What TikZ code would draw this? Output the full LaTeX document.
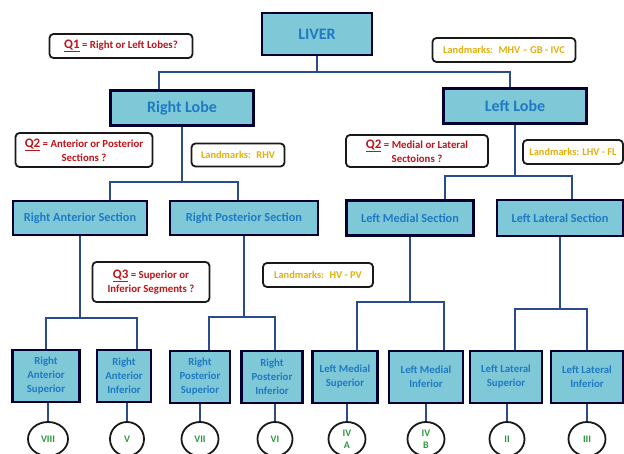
\documentclass[tikz,border=0pt]{standalone}
\usepackage{fontspec}
\setmainfont{Carlito}
\usetikzlibrary{shapes.geometric}
\definecolor{boxfill}{HTML}{7EC8D8}
\definecolor{boxtext}{HTML}{1F7AC2}
\definecolor{linkblue}{HTML}{2B4C8C}
\definecolor{qred}{HTML}{C0141C}
\definecolor{lmgold}{HTML}{E2B00C}
\definecolor{segreen}{HTML}{2E9A3C}
\newcommand{\qtag}[1]{{\fontsize{13}{13}\selectfont\underline{#1}}}

\begin{document}
\begin{tikzpicture}[x=1pt,y=-1pt,
  main box/.style={rectangle, draw=black!80!blue, line width=2.2pt, fill=boxfill, text=boxtext, align=center, inner sep=1pt, font=\bfseries\fontsize{12.3}{14}\selectfont},
  big box/.style={main box, font=\bfseries\fontsize{16}{18}\selectfont},
  seg box/.style={main box, minimum height=52, font=\bfseries\fontsize{10.8}{14}\selectfont},
  q box/.style={rectangle, rounded corners=4pt, draw=black!90, line width=1.8pt, fill=white, text=qred, align=center, inner sep=1pt, font=\bfseries\fontsize{10.8}{14}\selectfont},
  mark box/.style={q box, text=lmgold, font=\bfseries\fontsize{10.4}{12}\selectfont},
  seg/.style={ellipse, draw=black!90, line width=1.8pt, fill=white, text=segreen, align=center, inner sep=0pt, minimum width=37, minimum height=34, font=\bfseries\fontsize{10}{12}\selectfont},
  link/.style={draw=linkblue, line width=1.7pt}]
  \useasboundingbox (0,0) rectangle (624,454);

  % top
  \node [big box, minimum width=110, minimum height=42] (liver) at (317,34) {LIVER};
  \node [big box, minimum width=143, minimum height=35] (rlobe) at (182,108) {Right Lobe};
  \node [big box, minimum width=143, minimum height=35] (llobe) at (515,106) {Left Lobe};

  % questions and landmarks
  \node [q box, minimum width=143, minimum height=24] (q1) at (121,46) {\qtag{Q1} = Right or Left Lobes?};
  \node [mark box, minimum width=143, minimum height=24] (m1) at (504,50) {Landmarks:~ MHV -- GB - IVC};
  \node [q box, minimum width=137, minimum height=34] (q2a) at (84,150) {\qtag{Q2} = Anterior or Posterior\\Sections ?};
  \node [mark box, minimum width=93, minimum height=23] (m2) at (238,155) {Landmarks:~ RHV};
  \node [q box, minimum width=142, minimum height=32] (q2b) at (417,151) {\qtag{Q2} = Medial or Lateral\\Sectoions ?};
  \node [mark box, minimum width=100, minimum height=24] (m3) at (573,152) {Landmarks: LHV - FL};
  \node [q box, minimum width=117, minimum height=40] (q3) at (151,282) {\qtag{Q3} = Superior or\\Inferior Segments ?};
  \node [mark box, minimum width=110, minimum height=24] (m4) at (318,275) {Landmarks:~ HV - PV};

  % sections
  \node [main box, minimum width=134, minimum height=34] (ras) at (80,218) {Right Anterior Section};
  \node [main box, minimum width=148, minimum height=34] (rps) at (244,218) {Right Posterior Section};
  \node [main box, minimum width=127, minimum height=35] (lms) at (410,218) {Left Medial Section};
  \node [main box, minimum width=126, minimum height=36] (lls) at (560,218) {Left Lateral Section};

  % segments
  \node [seg box, minimum width=67] (rasup) at (46,376) {Right\\Anterior\\Superior};
  \node [seg box, minimum width=54] (rainf) at (124,376) {Right\\Anterior\\Inferior};
  \node [seg box, minimum width=60] (rpsup) at (200,377) {Right\\Posterior\\Superior};
  \node [seg box, minimum width=61] (rpinf) at (272,377) {Right\\Posterior\\Inferior};
  \node [seg box, minimum width=65] (lmsup) at (345,377) {Left Medial\\Superior};
  \node [seg box, minimum width=74] (lminf) at (426,377) {Left Medial\\Inferior};
  \node [seg box, minimum width=72] (llsup) at (506,377) {Left Lateral\\Superior};
  \node [seg box, minimum width=72] (llinf) at (587,377) {Left Lateral\\Inferior};

  \node [seg, minimum width=40] (s8) at (48,439) {VIII};
  \node [seg, minimum width=34] (s5) at (127,439) {V};
  \node [seg] (s7) at (200,439) {VII};
  \node [seg, minimum width=35] (s6) at (275,439) {VI};
  \node [seg] (s4a) at (347,439) {IV\\A};
  \node [seg] (s4b) at (426,439) {IV\\B};
  \node [seg, minimum width=35] (s2) at (507,439) {II};
  \node [seg] (s3) at (587,439) {III};

  % junctions
  \coordinate (j1) at (317,72);
  \coordinate (j2) at (182,182);
  \coordinate (j3) at (515,176);
  \coordinate (j4) at (80,318);
  \coordinate (j5) at (244,317);
  \coordinate (j6) at (410,302);
  \coordinate (j7) at (560,309);

  \draw [link] (liver.south) -- (j1);
  \draw [link] ([xshift=-23pt]rlobe.north) |- (j1) -| ([xshift=-5pt]llobe.north);
  \draw [link] (rlobe.south) -- (j2);
  \draw [link] ([xshift=30pt]ras.north) |- (j2) -| ([xshift=-6pt]rps.north);
  \draw [link] (llobe.south) -- (j3);
  \draw [link] ([xshift=35pt]lms.north) |- (j3) -| ([xshift=12pt]lls.north);
  \draw [link] (ras.south) -- (j4);
  \draw [link] (rasup.north) |- (j4) -| ([xshift=13pt]rainf.north);
  \draw [link] (rps.south) -- (j5);
  \draw [link] ([xshift=9pt]rpsup.north) |- (j5) -| ([xshift=3pt]rpinf.north);
  \draw [link] (lms.south) -- (j6);
  \draw [link] ([xshift=12pt]lmsup.north) |- (j6) -| ([xshift=18pt]lminf.north);
  \draw [link] (lls.south) -- (j7);
  \draw [link] ([xshift=9pt]llsup.north) |- (j7) -| (llinf.north);

  \foreach \b/\s in {rasup/s8, rainf/s5, rpsup/s7, rpinf/s6, lmsup/s4a, lminf/s4b, llsup/s2, llinf/s3}
    \draw [link] (\b.south -| \s) -- (\s.north);
\end{tikzpicture}
\end{document}
